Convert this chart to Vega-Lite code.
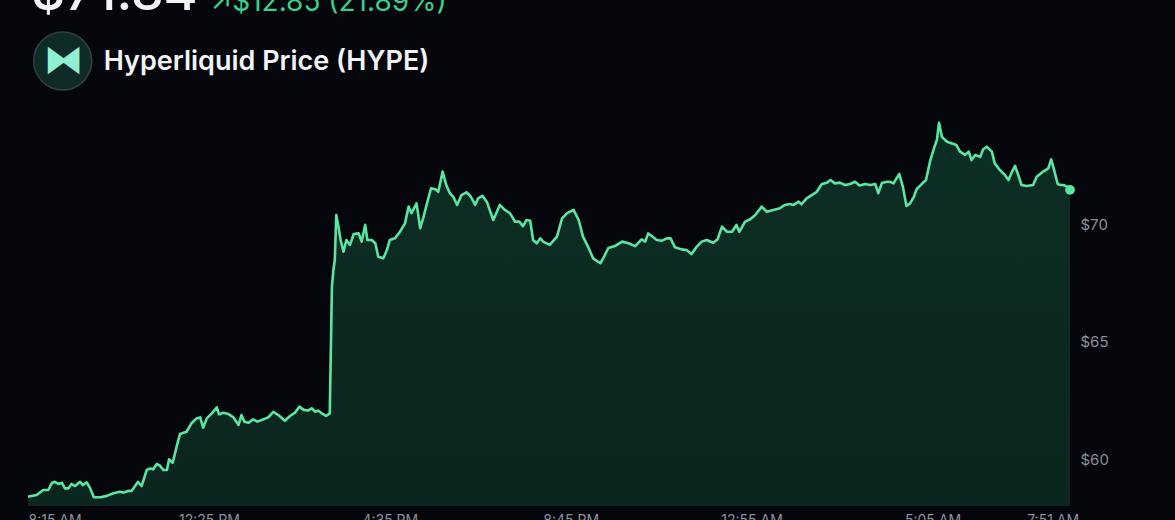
{
  "$schema": "https://vega.github.io/schema/vega-lite/v6.json",
  "description": "Hyperliquid (HYPE) price over the last 24 hours",
  "autosize": "none",
  "width": 1042,
  "height": 399.5,
  "padding": {"left": 28, "top": 106.5, "right": 105, "bottom": 14},
  "background": "#04060c",
  "config": {
    "view": {"stroke": null},
    "font": "Inter"
  },
  "data": {
    "values": [
      {"t": "2024-06-11T08:15", "p": 58.40},
      {"t": "2024-06-11T08:27", "p": 58.47},
      {"t": "2024-06-11T08:36", "p": 58.68},
      {"t": "2024-06-11T08:43", "p": 58.68},
      {"t": "2024-06-11T08:48", "p": 58.98},
      {"t": "2024-06-11T08:52", "p": 59.03},
      {"t": "2024-06-11T08:57", "p": 58.94},
      {"t": "2024-06-11T09:02", "p": 58.99},
      {"t": "2024-06-11T09:06", "p": 58.75},
      {"t": "2024-06-11T09:11", "p": 58.75},
      {"t": "2024-06-11T09:15", "p": 58.94},
      {"t": "2024-06-11T09:20", "p": 58.85},
      {"t": "2024-06-11T09:27", "p": 59.03},
      {"t": "2024-06-11T09:31", "p": 58.89},
      {"t": "2024-06-11T09:36", "p": 59.01},
      {"t": "2024-06-11T09:41", "p": 58.75},
      {"t": "2024-06-11T09:46", "p": 58.37},
      {"t": "2024-06-11T09:55", "p": 58.37},
      {"t": "2024-06-11T10:04", "p": 58.43},
      {"t": "2024-06-11T10:13", "p": 58.54},
      {"t": "2024-06-11T10:22", "p": 58.61},
      {"t": "2024-06-11T10:27", "p": 58.57},
      {"t": "2024-06-11T10:34", "p": 58.65},
      {"t": "2024-06-11T10:38", "p": 58.64},
      {"t": "2024-06-11T10:43", "p": 58.85},
      {"t": "2024-06-11T10:47", "p": 59.03},
      {"t": "2024-06-11T10:52", "p": 58.85},
      {"t": "2024-06-11T10:59", "p": 59.53},
      {"t": "2024-06-11T11:04", "p": 59.60},
      {"t": "2024-06-11T11:08", "p": 59.56},
      {"t": "2024-06-11T11:13", "p": 59.79},
      {"t": "2024-06-11T11:17", "p": 59.73},
      {"t": "2024-06-11T11:22", "p": 59.53},
      {"t": "2024-06-11T11:27", "p": 59.53},
      {"t": "2024-06-11T11:30", "p": 59.99},
      {"t": "2024-06-11T11:35", "p": 59.84},
      {"t": "2024-06-11T11:41", "p": 60.60},
      {"t": "2024-06-11T11:45", "p": 61.06},
      {"t": "2024-06-11T11:54", "p": 61.16},
      {"t": "2024-06-11T12:01", "p": 61.52},
      {"t": "2024-06-11T12:08", "p": 61.73},
      {"t": "2024-06-11T12:13", "p": 61.77},
      {"t": "2024-06-11T12:17", "p": 61.33},
      {"t": "2024-06-11T12:22", "p": 61.73},
      {"t": "2024-06-11T12:29", "p": 61.94},
      {"t": "2024-06-11T12:36", "p": 62.20},
      {"t": "2024-06-11T12:39", "p": 61.90},
      {"t": "2024-06-11T12:45", "p": 61.97},
      {"t": "2024-06-11T12:52", "p": 61.91},
      {"t": "2024-06-11T12:59", "p": 61.77},
      {"t": "2024-06-11T13:06", "p": 61.45},
      {"t": "2024-06-11T13:10", "p": 61.87},
      {"t": "2024-06-11T13:14", "p": 61.59},
      {"t": "2024-06-11T13:20", "p": 61.54},
      {"t": "2024-06-11T13:26", "p": 61.69},
      {"t": "2024-06-11T13:32", "p": 61.59},
      {"t": "2024-06-11T13:38", "p": 61.66},
      {"t": "2024-06-11T13:47", "p": 61.77},
      {"t": "2024-06-11T13:54", "p": 62.01},
      {"t": "2024-06-11T14:01", "p": 61.87},
      {"t": "2024-06-11T14:10", "p": 61.63},
      {"t": "2024-06-11T14:17", "p": 61.83},
      {"t": "2024-06-11T14:24", "p": 61.97},
      {"t": "2024-06-11T14:30", "p": 62.23},
      {"t": "2024-06-11T14:36", "p": 62.09},
      {"t": "2024-06-11T14:42", "p": 62.06},
      {"t": "2024-06-11T14:47", "p": 62.16},
      {"t": "2024-06-11T14:52", "p": 62.01},
      {"t": "2024-06-11T14:56", "p": 62.06},
      {"t": "2024-06-11T15:01", "p": 61.94},
      {"t": "2024-06-11T15:07", "p": 61.83},
      {"t": "2024-06-11T15:12", "p": 61.94},
      {"t": "2024-06-11T15:15", "p": 67.33},
      {"t": "2024-06-11T15:17", "p": 68.04},
      {"t": "2024-06-11T15:19", "p": 68.47},
      {"t": "2024-06-11T15:21", "p": 70.38},
      {"t": "2024-06-11T15:24", "p": 69.89},
      {"t": "2024-06-11T15:27", "p": 69.32},
      {"t": "2024-06-11T15:31", "p": 68.82},
      {"t": "2024-06-11T15:35", "p": 69.32},
      {"t": "2024-06-11T15:40", "p": 69.11},
      {"t": "2024-06-11T15:45", "p": 69.57},
      {"t": "2024-06-11T15:52", "p": 69.60},
      {"t": "2024-06-11T15:56", "p": 69.25},
      {"t": "2024-06-11T16:01", "p": 69.96},
      {"t": "2024-06-11T16:04", "p": 69.32},
      {"t": "2024-06-11T16:10", "p": 69.32},
      {"t": "2024-06-11T16:15", "p": 69.18},
      {"t": "2024-06-11T16:19", "p": 68.61},
      {"t": "2024-06-11T16:26", "p": 68.54},
      {"t": "2024-06-11T16:31", "p": 68.89},
      {"t": "2024-06-11T16:35", "p": 69.32},
      {"t": "2024-06-11T16:42", "p": 69.39},
      {"t": "2024-06-11T16:49", "p": 69.67},
      {"t": "2024-06-11T16:56", "p": 70.03},
      {"t": "2024-06-11T17:01", "p": 70.74},
      {"t": "2024-06-11T17:05", "p": 70.46},
      {"t": "2024-06-11T17:12", "p": 70.88},
      {"t": "2024-06-11T17:17", "p": 69.82},
      {"t": "2024-06-11T17:21", "p": 70.24},
      {"t": "2024-06-11T17:27", "p": 70.95},
      {"t": "2024-06-11T17:32", "p": 71.52},
      {"t": "2024-06-11T17:38", "p": 71.48},
      {"t": "2024-06-11T17:42", "p": 71.37},
      {"t": "2024-06-11T17:48", "p": 72.23},
      {"t": "2024-06-11T17:53", "p": 71.66},
      {"t": "2024-06-11T17:58", "p": 71.31},
      {"t": "2024-06-11T18:03", "p": 71.14},
      {"t": "2024-06-11T18:08", "p": 70.81},
      {"t": "2024-06-11T18:14", "p": 71.23},
      {"t": "2024-06-11T18:21", "p": 71.35},
      {"t": "2024-06-11T18:27", "p": 71.16},
      {"t": "2024-06-11T18:33", "p": 70.81},
      {"t": "2024-06-11T18:37", "p": 71.09},
      {"t": "2024-06-11T18:43", "p": 71.20},
      {"t": "2024-06-11T18:49", "p": 70.95},
      {"t": "2024-06-11T18:54", "p": 70.52},
      {"t": "2024-06-11T18:58", "p": 70.17},
      {"t": "2024-06-11T19:03", "p": 70.52},
      {"t": "2024-06-11T19:07", "p": 70.81},
      {"t": "2024-06-11T19:14", "p": 70.60},
      {"t": "2024-06-11T19:21", "p": 70.46},
      {"t": "2024-06-11T19:28", "p": 70.10},
      {"t": "2024-06-11T19:34", "p": 70.10},
      {"t": "2024-06-11T19:39", "p": 69.91},
      {"t": "2024-06-11T19:44", "p": 70.17},
      {"t": "2024-06-11T19:49", "p": 70.14},
      {"t": "2024-06-11T19:53", "p": 69.32},
      {"t": "2024-06-11T19:58", "p": 69.18},
      {"t": "2024-06-11T20:03", "p": 69.39},
      {"t": "2024-06-11T20:07", "p": 69.25},
      {"t": "2024-06-11T20:16", "p": 69.11},
      {"t": "2024-06-11T20:26", "p": 69.46},
      {"t": "2024-06-11T20:33", "p": 70.24},
      {"t": "2024-06-11T20:40", "p": 70.46},
      {"t": "2024-06-11T20:49", "p": 70.60},
      {"t": "2024-06-11T20:56", "p": 70.17},
      {"t": "2024-06-11T21:02", "p": 69.46},
      {"t": "2024-06-11T21:09", "p": 69.03},
      {"t": "2024-06-11T21:16", "p": 68.54},
      {"t": "2024-06-11T21:26", "p": 68.33},
      {"t": "2024-06-11T21:30", "p": 68.55},
      {"t": "2024-06-11T21:37", "p": 68.98},
      {"t": "2024-06-11T21:46", "p": 69.06},
      {"t": "2024-06-11T21:56", "p": 69.25},
      {"t": "2024-06-11T22:05", "p": 69.18},
      {"t": "2024-06-11T22:14", "p": 69.06},
      {"t": "2024-06-11T22:23", "p": 69.35},
      {"t": "2024-06-11T22:28", "p": 69.25},
      {"t": "2024-06-11T22:32", "p": 69.60},
      {"t": "2024-06-11T22:37", "p": 69.49},
      {"t": "2024-06-11T22:44", "p": 69.32},
      {"t": "2024-06-11T22:51", "p": 69.29},
      {"t": "2024-06-11T22:58", "p": 69.39},
      {"t": "2024-06-11T23:03", "p": 69.39},
      {"t": "2024-06-11T23:09", "p": 69.01},
      {"t": "2024-06-11T23:18", "p": 68.92},
      {"t": "2024-06-11T23:25", "p": 68.89},
      {"t": "2024-06-11T23:32", "p": 68.72},
      {"t": "2024-06-11T23:39", "p": 69.03},
      {"t": "2024-06-11T23:46", "p": 69.25},
      {"t": "2024-06-11T23:53", "p": 69.32},
      {"t": "2024-06-12T00:02", "p": 69.20},
      {"t": "2024-06-12T00:08", "p": 69.35},
      {"t": "2024-06-12T00:14", "p": 69.89},
      {"t": "2024-06-12T00:21", "p": 69.67},
      {"t": "2024-06-12T00:28", "p": 69.67},
      {"t": "2024-06-12T00:34", "p": 69.96},
      {"t": "2024-06-12T00:38", "p": 69.67},
      {"t": "2024-06-12T00:46", "p": 70.10},
      {"t": "2024-06-12T00:53", "p": 70.20},
      {"t": "2024-06-12T01:00", "p": 70.38},
      {"t": "2024-06-12T01:09", "p": 70.74},
      {"t": "2024-06-12T01:16", "p": 70.52},
      {"t": "2024-06-12T01:25", "p": 70.60},
      {"t": "2024-06-12T01:34", "p": 70.67},
      {"t": "2024-06-12T01:41", "p": 70.81},
      {"t": "2024-06-12T01:48", "p": 70.85},
      {"t": "2024-06-12T01:53", "p": 70.81},
      {"t": "2024-06-12T02:00", "p": 70.95},
      {"t": "2024-06-12T02:04", "p": 70.84},
      {"t": "2024-06-12T02:11", "p": 71.09},
      {"t": "2024-06-12T02:18", "p": 71.23},
      {"t": "2024-06-12T02:25", "p": 71.37},
      {"t": "2024-06-12T02:32", "p": 71.70},
      {"t": "2024-06-12T02:39", "p": 71.76},
      {"t": "2024-06-12T02:44", "p": 71.87},
      {"t": "2024-06-12T02:50", "p": 71.73},
      {"t": "2024-06-12T02:57", "p": 71.76},
      {"t": "2024-06-12T03:04", "p": 71.66},
      {"t": "2024-06-12T03:11", "p": 71.70},
      {"t": "2024-06-12T03:18", "p": 71.80},
      {"t": "2024-06-12T03:24", "p": 71.64},
      {"t": "2024-06-12T03:32", "p": 71.70},
      {"t": "2024-06-12T03:39", "p": 71.66},
      {"t": "2024-06-12T03:46", "p": 71.70},
      {"t": "2024-06-12T03:50", "p": 71.31},
      {"t": "2024-06-12T03:55", "p": 71.74},
      {"t": "2024-06-12T04:02", "p": 71.80},
      {"t": "2024-06-12T04:06", "p": 71.80},
      {"t": "2024-06-12T04:11", "p": 71.73},
      {"t": "2024-06-12T04:19", "p": 72.13},
      {"t": "2024-06-12T04:24", "p": 71.59},
      {"t": "2024-06-12T04:29", "p": 70.77},
      {"t": "2024-06-12T04:34", "p": 70.88},
      {"t": "2024-06-12T04:39", "p": 71.14},
      {"t": "2024-06-12T04:43", "p": 71.48},
      {"t": "2024-06-12T04:50", "p": 71.70},
      {"t": "2024-06-12T04:56", "p": 71.87},
      {"t": "2024-06-12T05:02", "p": 72.72},
      {"t": "2024-06-12T05:07", "p": 73.22},
      {"t": "2024-06-12T05:11", "p": 73.57},
      {"t": "2024-06-12T05:14", "p": 74.31},
      {"t": "2024-06-12T05:18", "p": 73.71},
      {"t": "2024-06-12T05:25", "p": 73.50},
      {"t": "2024-06-12T05:32", "p": 73.43},
      {"t": "2024-06-12T05:38", "p": 73.36},
      {"t": "2024-06-12T05:43", "p": 73.08},
      {"t": "2024-06-12T05:50", "p": 72.94},
      {"t": "2024-06-12T05:55", "p": 73.08},
      {"t": "2024-06-12T05:59", "p": 72.72},
      {"t": "2024-06-12T06:04", "p": 72.94},
      {"t": "2024-06-12T06:11", "p": 72.86},
      {"t": "2024-06-12T06:15", "p": 73.18},
      {"t": "2024-06-12T06:20", "p": 73.29},
      {"t": "2024-06-12T06:27", "p": 73.08},
      {"t": "2024-06-12T06:31", "p": 72.58},
      {"t": "2024-06-12T06:38", "p": 72.30},
      {"t": "2024-06-12T06:45", "p": 72.09},
      {"t": "2024-06-12T06:50", "p": 71.87},
      {"t": "2024-06-12T06:55", "p": 72.23},
      {"t": "2024-06-12T06:59", "p": 72.47},
      {"t": "2024-06-12T07:04", "p": 72.04},
      {"t": "2024-06-12T07:08", "p": 71.66},
      {"t": "2024-06-12T07:15", "p": 71.62},
      {"t": "2024-06-12T07:24", "p": 71.66},
      {"t": "2024-06-12T07:29", "p": 72.01},
      {"t": "2024-06-12T07:38", "p": 72.23},
      {"t": "2024-06-12T07:45", "p": 72.37},
      {"t": "2024-06-12T07:49", "p": 72.75},
      {"t": "2024-06-12T07:53", "p": 72.30},
      {"t": "2024-06-12T07:58", "p": 71.70},
      {"t": "2024-06-12T08:02", "p": 71.66},
      {"t": "2024-06-12T08:06", "p": 71.66},
      {"t": "2024-06-12T08:11", "p": 71.59},
      {"t": "2024-06-12T08:15", "p": 71.45}
    ]
  },
  "encoding": {
    "x": {
      "field": "t",
      "type": "temporal",
      "scale": {
        "domain": [
          {"year": 2024, "month": 6, "date": 11, "hours": 8, "minutes": 15},
          {"year": 2024, "month": 6, "date": 12, "hours": 8, "minutes": 15}
        ]
      },
      "axis": {
        "values": [
          {"year": 2024, "month": 6, "date": 11, "hours": 8, "minutes": 15},
          {"year": 2024, "month": 6, "date": 11, "hours": 12, "minutes": 25},
          {"year": 2024, "month": 6, "date": 11, "hours": 16, "minutes": 35},
          {"year": 2024, "month": 6, "date": 11, "hours": 20, "minutes": 45},
          {"year": 2024, "month": 6, "date": 12, "hours": 0, "minutes": 55},
          {"year": 2024, "month": 6, "date": 12, "hours": 5, "minutes": 5},
          {"year": 2024, "month": 6, "date": 12, "hours": 7, "minutes": 51}
        ],
        "format": "%-I:%M %p",
        "labelFlush": 3,
        "labelFont": "Inter",
        "labelFontSize": 14,
        "labelColor": "#8a8f99",
        "labelBaseline": "top",
        "labelPadding": 7,
        "labelOverlap": false,
        "domain": false,
        "ticks": false,
        "grid": false,
        "title": "$71.84",
        "titleFont": "Inter",
        "titleFontSize": 52,
        "titleFontWeight": 500,
        "titleColor": "#f2f3f5",
        "titleAlign": "left",
        "titleAnchor": "start",
        "titleBaseline": "alphabetic",
        "titleX": 3,
        "titleY": -497
      }
    },
    "y": {
      "field": "p",
      "type": "quantitative",
      "scale": {"domain": [58, 75], "nice": false, "zero": false},
      "axis": {
        "orient": "right",
        "values": [60, 65, 70],
        "labelExpr": "'$' + datum.value",
        "labelFont": "Inter",
        "labelFontSize": 15,
        "labelColor": "#8a8f99",
        "labelPadding": 10,
        "domain": false,
        "ticks": false,
        "grid": false,
        "title": "↗$12.85 (21.89%)",
        "titleFont": "Inter",
        "titleFontSize": 28,
        "titleFontWeight": 400,
        "titleColor": "#3ccf8c",
        "titleAngle": 0,
        "titleAlign": "left",
        "titleBaseline": "alphabetic",
        "titleX": -860,
        "titleY": -96.5
      }
    }
  },
  "layer": [
    {
      "mark": {
        "type": "area",
        "clip": true,
        "color": {
          "gradient": "linear",
          "x1": 0, "y1": 0, "x2": 0, "y2": 1,
          "stops": [
            {"offset": 0, "color": "rgba(35,150,100,0.28)"},
            {"offset": 0.55, "color": "rgba(30,130,85,0.16)"},
            {"offset": 1, "color": "rgba(20,90,60,0.0)"}
          ]
        }
      }
    },
    {
      "mark": {"type": "line", "clip": true, "color": "#5ae6a2", "strokeWidth": 2.6, "strokeJoin": "round"}
    },
    {
      "transform": [
        {"window": [{"op": "row_number", "as": "rn"}], "sort": [{"field": "t", "order": "descending"}]},
        {"filter": "datum.rn == 1"}
      ],
      "mark": {"type": "point", "filled": true, "size": 95, "opacity": 1, "color": "#5ae6a2"}
    },
    {
      "transform": [
        {"window": [{"op": "row_number", "as": "rn"}], "sort": [{"field": "t", "order": "descending"}]},
        {"filter": "datum.rn == 1"}
      ],
      "mark": {"type": "point", "filled": true, "size": 0},
      "encoding": {
        "fill": {
          "datum": "HYPE",
          "scale": {"range": ["#0f2b25"]},
          "legend": {
            "orient": "none",
            "legendX": 4.7,
            "legendY": -75.5,
            "padding": 0,
            "offset": 0,
            "title": "Hyperliquid Price (HYPE)",
            "titleOrient": "right",
            "titleAnchor": "middle",
            "titleBaseline": "middle",
            "titleFont": "Inter",
            "titleFontSize": 27,
            "titleFontWeight": 600,
            "titleColor": "#f2f3f5",
            "titlePadding": 9,
            "titleLimit": 500,
            "symbolType": "circle",
            "symbolSize": 3364,
            "symbolStrokeColor": "#34423f",
            "symbolStrokeWidth": 1.5,
            "symbolOpacity": 1,
            "labelExpr": "'⧓'",
            "labelFont": "DejaVu Sans",
            "labelFontSize": 40,
            "labelColor": "#8ff0d2",
            "labelAlign": "center",
            "labelBaseline": "middle",
            "labelOffset": -29
          }
        }
      }
    }
  ]
}
